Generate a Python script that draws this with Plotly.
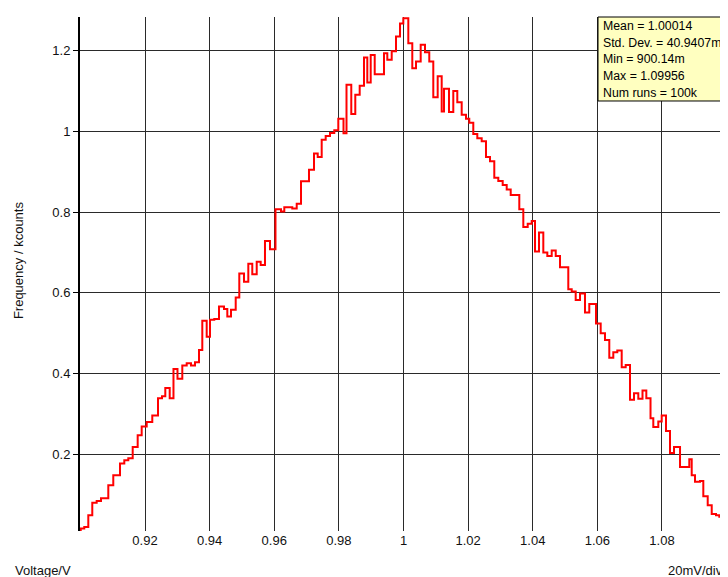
import numpy as np
import plotly.graph_objects as go

# ---- data (voltage bin starts, counts in kcounts) ----
bin_start_v = [
    0.9001, 0.9012, 0.90245, 0.90368, 0.90504, 0.90638, 0.90864, 0.91018, 0.91226, 0.91359,
    0.91483, 0.91619, 0.91773, 0.91897, 0.92052, 0.92225, 0.92402, 0.92526, 0.92628, 0.92764,
    0.92881, 0.93005, 0.93154, 0.93290, 0.93423, 0.93547, 0.93671, 0.93773, 0.93909, 0.94011,
    0.94144, 0.94290, 0.94444, 0.94547, 0.94661, 0.94807, 0.94918, 0.95063, 0.95197, 0.95320,
    0.95457, 0.95580, 0.95713, 0.95868, 0.96038, 0.96209, 0.96311, 0.96558, 0.96695, 0.96828,
    0.97075, 0.97230, 0.97345, 0.97468, 0.97592, 0.97725, 0.97858, 0.97982, 0.98143, 0.98236,
    0.98384, 0.98508, 0.98644, 0.98777, 0.98880, 0.98985, 0.99109, 0.99396, 0.99499, 0.99635,
    0.99768, 0.99892, 0.99994, 1.00149, 1.00272, 1.00387, 1.00532, 1.00665, 1.00798, 1.00922,
    1.01058, 1.01182, 1.01253, 1.01408, 1.01541, 1.01665, 1.01801, 1.01934, 1.02036, 1.02160,
    1.02284, 1.02420, 1.02553, 1.02677, 1.02810, 1.02934, 1.03070, 1.03194, 1.03318, 1.03584,
    1.03708, 1.03844, 1.03968, 1.04070, 1.04194, 1.04327, 1.04451, 1.04587, 1.04711, 1.04844,
    1.05100, 1.05206, 1.05329, 1.05463, 1.05617, 1.05750, 1.05958, 1.06103, 1.06236, 1.06369,
    1.06493, 1.06617, 1.06753, 1.06877, 1.07010, 1.07134, 1.07267, 1.07397, 1.07515, 1.07645,
    1.07731, 1.07886, 1.07991, 1.08124, 1.08248, 1.08372, 1.08558, 1.08845, 1.08920, 1.09022,
    1.09177, 1.09279, 1.09415, 1.09539, 1.09672, 1.09774, 1.09898, 1.10022,
]
last_bin_end_v = 1.1012

counts_k = [
    0.016, 0.020, 0.049, 0.080, 0.084, 0.091, 0.123, 0.148, 0.177, 0.185,
    0.190, 0.218, 0.247, 0.269, 0.280, 0.296, 0.339, 0.344, 0.364, 0.339,
    0.411, 0.387, 0.420, 0.4255, 0.420, 0.428, 0.4585, 0.531, 0.491, 0.533,
    0.535, 0.566, 0.560, 0.541, 0.558, 0.588, 0.648, 0.627, 0.672, 0.646,
    0.677, 0.669, 0.728, 0.708, 0.807, 0.801, 0.812, 0.809, 0.8205, 0.8765,
    0.905, 0.945, 0.936, 0.979, 0.988, 0.996, 1.0025, 1.031, 0.995, 1.115,
    1.043, 1.0905, 1.1127, 1.183, 1.121, 1.189, 1.141, 1.193, 1.177, 1.198,
    1.235, 1.267, 1.280, 1.218, 1.156, 1.173, 1.214, 1.196, 1.173, 1.084,
    1.136, 1.049, 1.105, 1.048, 1.100, 1.072, 1.041, 1.031, 1.021, 0.993,
    0.983, 0.975, 0.936, 0.926, 0.885, 0.877, 0.867, 0.856, 0.842, 0.807,
    0.763, 0.771, 0.778, 0.702, 0.749, 0.700, 0.691, 0.705, 0.691, 0.663,
    0.609, 0.603, 0.582, 0.598, 0.551, 0.572, 0.524, 0.4995, 0.483, 0.439,
    0.4526, 0.457, 0.4156, 0.421, 0.335, 0.351, 0.3375, 0.358, 0.339, 0.289,
    0.2675, 0.2815, 0.296, 0.2576, 0.203, 0.218, 0.1687, 0.1877, 0.148, 0.1317,
    0.134, 0.0963, 0.074, 0.052, 0.049, 0.045, 0.0165, 0.005,
]

x_ticks = [0.92, 0.94, 0.96, 0.98, 1.00, 1.02, 1.04, 1.06, 1.08]
x_tick_labels = ["0.92", "0.94", "0.96", "0.98", "1", "1.02", "1.04", "1.06", "1.08"]
y_ticks = [0.2, 0.4, 0.6, 0.8, 1.0, 1.2]
y_tick_labels = ["0.2", "0.4", "0.6", "0.8", "1", "1.2"]

stats_lines = [
    "Mean = 1.00014",
    "Std. Dev. = 40.9407m",
    "Min = 900.14m",
    "Max = 1.09956",
    "Num runs = 100k",
]

# ---- build histogram outline (step) ----
xs = np.concatenate([[bin_start_v[0]], bin_start_v, [last_bin_end_v, last_bin_end_v]])
ys = np.concatenate([[0.0], counts_k, [counts_k[-1], 0.0]])

FONT = "Liberation Sans, Arial, sans-serif"
TXT = "#111111"
GRID = "#2a2a2a"
FS = 13

fig = go.Figure()
fig.add_trace(go.Scatter(
    x=xs, y=ys, mode="lines", line=dict(color="#ff0000", width=2, shape="hv"),
    hoverinfo="skip", showlegend=False,
))

# page body has an 8px margin, so the figure is 8px smaller and offset
fig.update_layout(
    width=720, height=569,
    margin=dict(l=72, r=0, t=9, b=46, pad=0),
    paper_bgcolor="white", plot_bgcolor="white",
    font=dict(family=FONT, size=FS, color=TXT),
    showlegend=False,
    xaxis=dict(
        range=[0.89988, 1.10043], tickvals=x_ticks, ticktext=x_tick_labels,
        showgrid=True, gridcolor=GRID, gridwidth=1, zeroline=False, showline=False,
        ticks="", tickfont=dict(family=FONT, size=FS, color=TXT),
    ),
    yaxis=dict(
        range=[0.01, 1.283], tickvals=y_ticks, ticktext=y_tick_labels,
        showgrid=True, gridcolor=GRID, gridwidth=1, zeroline=False,
        showline=True, linecolor="black", linewidth=2,
        ticks="outside", ticklen=5, tickcolor="black", tickwidth=1,
        tickfont=dict(family=FONT, size=FS, color=TXT),
    ),
)

# stats box
fig.add_shape(type="rect", xref="paper", yref="paper",
              x0=0.7994, x1=1.05, y0=0.8366, y1=1.0,
              line=dict(color="black", width=1), fillcolor="#ffffc0", layer="above")
line_y = [0.9825, 0.9494, 0.9183, 0.8852, 0.8521]
for txt, yy in zip(stats_lines, line_y):
    fig.add_annotation(xref="paper", yref="paper", x=0.8040, y=yy, text=txt,
                       showarrow=False, xanchor="left", yanchor="middle",
                       font=dict(family=FONT, size=12.3, color="black"))

# axis captions
fig.add_annotation(xref="paper", yref="paper", x=-0.1034, y=-0.0759, text="Voltage/V",
                   showarrow=False, xanchor="left", yanchor="middle",
                   font=dict(family=FONT, size=FS, color=TXT))
fig.add_annotation(xref="paper", yref="paper", x=0.905, y=-0.0759, text="20mV/div",
                   showarrow=False, xanchor="left", yanchor="middle",
                   font=dict(family=FONT, size=FS, color=TXT))
fig.add_annotation(xref="paper", yref="paper", x=-0.0957, y=0.527, text="Frequency / kcounts",
                   showarrow=False, textangle=-90, xanchor="center", yanchor="middle",
                   font=dict(family=FONT, size=FS, color=TXT))

fig.write_html("out.html")
